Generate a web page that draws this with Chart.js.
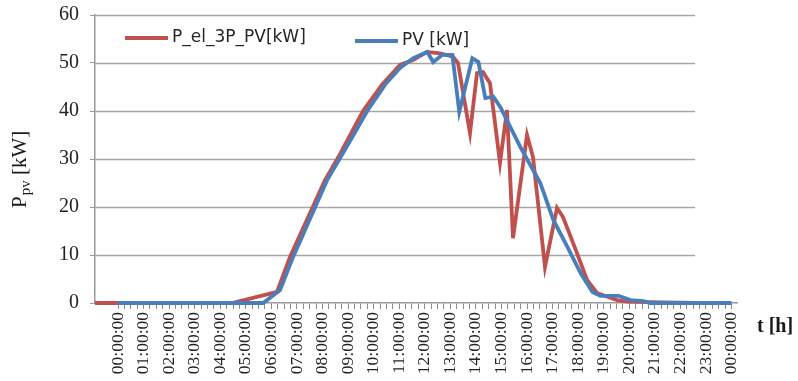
<!DOCTYPE html>
<html>
<head>
<meta charset="utf-8">
<script src="https://cdn.jsdelivr.net/npm/chart.js@4/dist/chart.umd.min.js"></script>
<style>
  html, body { margin: 0; padding: 0; background: #fff; }
  canvas { display: block; }
</style>
</head>
<body>
<canvas id="c" width="798" height="381"></canvas>
<script>
// ---- Data ----
const seriesNames = ['P_el_3P_PV[kW]', 'PV [kW]'];

// Red series, on its own (hidden) time axis, hours
const redTimes  = [0, 5.48, 7.28, 7.8, 9.2, 9.8, 10.72, 11.48, 12.2, 12.72, 13.28, 13.8, 14.32, 14.52, 15.0, 15.28, 15.52, 15.8, 16.2, 16.48, 16.72, 17.28, 17.52, 18.0, 18.48, 18.72, 19.28, 19.68, 20.08, 20.88, 21.28, 22.2, 24];
const redValues = [0, 0, 2.3, 9.6, 25.6, 31, 40, 45.5, 49.6, 50.6, 52.3, 52, 51.3, 50, 35.4, 47.9, 48.1, 45.8, 29.2, 40.2, 13.5, 35, 30.4, 7.5, 19.8, 17.9, 10.4, 4.8, 2.1, 0.6, 0.3, 0.2, 0];

// Blue series, on the labelled time axis, hours
const blueTimes  = [0, 5.68, 6.34, 6.85, 8.18, 8.89, 9.75, 10.45, 11.04, 11.55, 12.10, 12.33, 12.69, 13.08, 13.35, 13.86, 14.10, 14.37, 14.68, 14.96, 15.74, 16.52, 17.03, 17.58, 18.09, 18.56, 18.87, 19.58, 20.05, 20.56, 20.83, 24];
const blueValues = [0, 0, 2.7, 9.6, 25.6, 32, 40, 45.5, 49, 51, 52.3, 50.2, 51.7, 51.7, 39.8, 51, 50.2, 42.7, 43, 40.8, 32.5, 25, 17.3, 11.7, 6.3, 2.3, 1.5, 1.5, 0.6, 0.4, 0, 0];

const xTickLabels = ['00:00:00','01:00:00','02:00:00','03:00:00','04:00:00','05:00:00','06:00:00','07:00:00','08:00:00','09:00:00','10:00:00','11:00:00','12:00:00','13:00:00','14:00:00','15:00:00','16:00:00','17:00:00','18:00:00','19:00:00','20:00:00','21:00:00','22:00:00','23:00:00','00:00:00'];
const yTickValues = [0, 10, 20, 30, 40, 50, 60];
const yTitleParts = ['P', 'pv', ' [kW]'];
const xTitle = 't [h]';

const RED = '#c0504d';
const BLUE = '#4a7ebb';
const GRID = '#a6a6a6';

const toXY = (xs, ys) => xs.map((x, i) => ({ x: x, y: ys[i] }));

// minor tick positions every quarter hour on the labelled axis
const quarterTicks = [];
for (let i = 0; i <= 96; i++) quarterTicks.push(i / 4);

const gridPlugin = {
  id: 'hgrid',
  beforeDatasetsDraw(chart) {
    const { ctx, chartArea, scales } = chart;
    const xEnd = scales.xr.getPixelForValue(24);
    ctx.save();
    ctx.strokeStyle = GRID;
    ctx.lineWidth = 1.4;
    scales.y.ticks.forEach(t => {
      if (t.value === 0) return;
      const y = Math.round(scales.y.getPixelForValue(t.value)) + 0.5;
      ctx.beginPath();
      ctx.moveTo(chartArea.left, y);
      ctx.lineTo(xEnd, y);
      ctx.stroke();
    });
    ctx.restore();
  }
};

const textPlugin = {
  id: 'texts',
  afterDraw(chart) {
    const ctx = chart.ctx;
    ctx.save();
    // legend
    const items = [
      { color: RED, label: seriesNames[0], x: 125, y: 38 },
      { color: BLUE, label: seriesNames[1], x: 355, y: 41 }
    ];
    items.forEach(it => {
      ctx.strokeStyle = it.color;
      ctx.lineWidth = 4;
      ctx.beginPath();
      ctx.moveTo(it.x, it.y);
      ctx.lineTo(it.x + 43, it.y);
      ctx.stroke();
      ctx.fillStyle = '#262626';
      ctx.font = '17px "DejaVu Sans"';
      ctx.textAlign = 'left';
      ctx.textBaseline = 'middle';
      ctx.fillText(it.label, it.x + 47, it.y);
    });
    // y title with subscript
    ctx.save();
    ctx.translate(26, 208);
    ctx.rotate(-Math.PI / 2);
    ctx.fillStyle = '#1a1a1a';
    ctx.textAlign = 'left';
    ctx.textBaseline = 'alphabetic';
    ctx.font = '21px "Liberation Serif"';
    ctx.fillText(yTitleParts[0], 0, 0);
    let w = ctx.measureText(yTitleParts[0]).width + 1;
    ctx.font = '15px "Liberation Serif"';
    ctx.fillText(yTitleParts[1], w, 4);
    w += ctx.measureText(yTitleParts[1]).width;
    ctx.font = '21px "Liberation Serif"';
    ctx.fillText(yTitleParts[2], w, 0);
    ctx.restore();
    // x title
    ctx.fillStyle = '#1a1a1a';
    ctx.font = 'bold 20px "Liberation Serif"';
    ctx.textAlign = 'left';
    ctx.textBaseline = 'middle';
    ctx.fillText(xTitle, 757, 327);
    ctx.restore();
  }
};

new Chart(document.getElementById('c'), {
  type: 'line',
  data: {
    datasets: [
      {
        label: seriesNames[1],
        data: toXY(blueTimes, blueValues),
        xAxisID: 'x',
        yAxisID: 'y',
        borderColor: BLUE,
        borderWidth: 3.8,
        pointRadius: 0,
        tension: 0,
        fill: false,
        clip: false,
        order: 0
      },
      {
        label: seriesNames[0],
        data: toXY(redTimes, redValues),
        xAxisID: 'xr',
        yAxisID: 'y',
        borderColor: RED,
        borderWidth: 3.8,
        pointRadius: 0,
        tension: 0,
        fill: false,
        clip: false,
        order: 1
      }
    ]
  },
  options: {
    responsive: false,
    animation: false,
    devicePixelRatio: 1,
    layout: { padding: { top: 15, right: 61, left: 0, bottom: 0 } },
    plugins: {
      legend: { display: false },
      tooltip: { enabled: false }
    },
    scales: {
      x: {
        type: 'linear',
        position: 'bottom',
        min: -0.9,
        max: 24.215,
        afterBuildTicks(scale) {
          scale.ticks = quarterTicks.map(v => ({ value: v }));
        },
        afterFit(scale) {
          scale.height = 78;
          scale.paddingLeft = 0;
          scale.paddingRight = 0;
        },
        grid: {
          display: true,
          drawOnChartArea: false,
          drawTicks: true,
          tickLength: 6,
          color: '#8a8a8a',
          lineWidth: 1
        },
        border: { display: true, color: '#9a9a9a', width: 1.5 },
        ticks: {
          autoSkip: false,
          minRotation: 90,
          maxRotation: 90,
          padding: 3,
          color: '#222',
          font: { family: '"Liberation Serif"', size: 17.5 },
          callback(value) {
            return Number.isInteger(value) ? xTickLabels[value] : '';
          }
        }
      },
      xr: {
        type: 'linear',
        display: false,
        min: 0,
        max: 25.68
      },
      y: {
        type: 'linear',
        position: 'left',
        min: 0,
        max: 60,
        afterBuildTicks(scale) {
          scale.ticks = yTickValues.map(v => ({ value: v }));
        },
        afterFit(scale) {
          scale.width = 95;
          scale.paddingTop = 0;
          scale.paddingBottom = 0;
        },
        grid: {
          display: true,
          drawOnChartArea: false,
          drawTicks: true,
          tickLength: 5,
          color: '#9a9a9a'
        },
        border: { display: true, color: '#9a9a9a', width: 1.5 },
        ticks: {
          padding: 11,
          color: '#222',
          font: { family: '"Liberation Serif"', size: 20 }
        }
      }
    }
  },
  plugins: [gridPlugin, textPlugin]
});
</script>
</body>
</html>
